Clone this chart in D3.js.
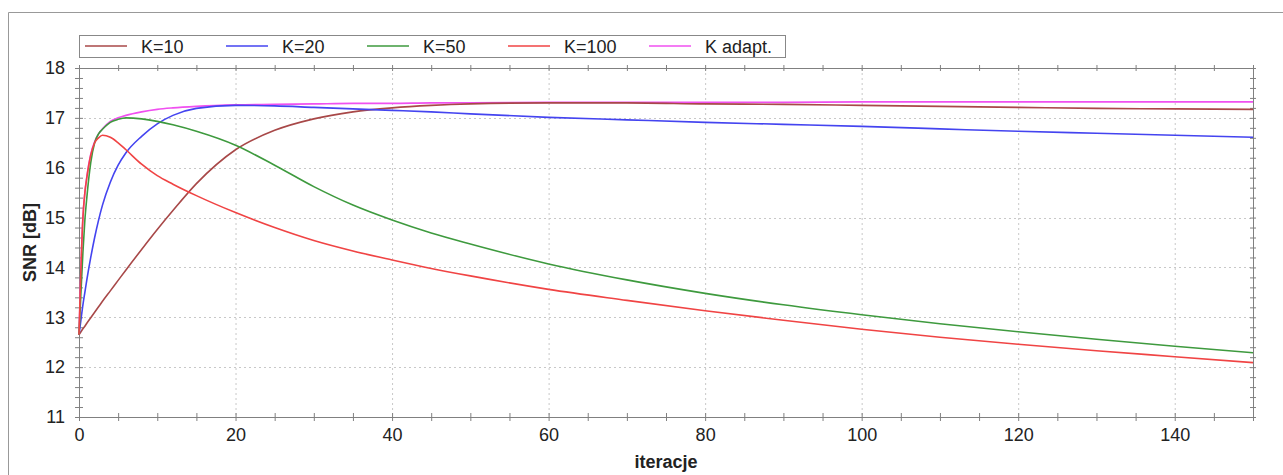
<!DOCTYPE html>
<html>
<head>
<meta charset="utf-8">
<script src="https://cdn.jsdelivr.net/npm/d3@7"></script>
<style>
  body { margin: 0; background: #fff; }
  svg text { font-family: "Liberation Sans", Arial, sans-serif; fill: #222; }
</style>
</head>
<body>
<div id="chart"></div>
<script>
// iteration numbers (denser at the start where curves are steep)
const iterations = [0, 0.25, 0.5, 0.75, 1, 1.5, 2, 2.5, 3, 4, 5, 6, 8, 10, 12, 15, 20, 25, 30, 35, 40, 45, 50, 60, 70, 80, 90, 100, 110, 120, 130, 140, 150];

const snrK10 = [12.65, 12.71, 12.77, 12.82, 12.88, 12.99, 13.1, 13.21, 13.32, 13.53, 13.74, 13.95, 14.36, 14.76, 15.14, 15.68, 16.36, 16.75, 16.98, 17.12, 17.2, 17.25, 17.28, 17.3, 17.3, 17.28, 17.27, 17.25, 17.23, 17.21, 17.19, 17.18, 17.17];
const snrK20 = [12.65, 12.95, 13.25, 13.5, 13.75, 14.2, 14.6, 14.95, 15.25, 15.71, 16.05, 16.3, 16.63, 16.88, 17.05, 17.19, 17.25, 17.24, 17.21, 17.18, 17.15, 17.12, 17.08, 17.01, 16.96, 16.91, 16.87, 16.83, 16.78, 16.73, 16.69, 16.65, 16.61];
const snrK50 = [12.65, 13.5, 14.3, 14.95, 15.4, 16.1, 16.5, 16.68, 16.77, 16.91, 16.97, 17.0, 16.98, 16.93, 16.86, 16.73, 16.45, 16.05, 15.62, 15.25, 14.95, 14.69, 14.47, 14.07, 13.75, 13.48, 13.25, 13.05, 12.87, 12.71, 12.56, 12.42, 12.29];
const snrK100 = [12.65, 14.0, 15.0, 15.5, 15.8, 16.25, 16.5, 16.6, 16.65, 16.61, 16.5, 16.36, 16.07, 15.84, 15.67, 15.44, 15.1, 14.8, 14.54, 14.33, 14.15, 13.98, 13.83, 13.56, 13.34, 13.13, 12.94, 12.76, 12.6, 12.46, 12.33, 12.21, 12.09];
const snrAdapt = [12.65, 14.0, 15.0, 15.5, 15.82, 16.27, 16.52, 16.68, 16.78, 16.93, 17.0, 17.05, 17.12, 17.17, 17.2, 17.23, 17.26, 17.27, 17.28, 17.29, 17.29, 17.3, 17.3, 17.31, 17.31, 17.31, 17.31, 17.32, 17.32, 17.32, 17.32, 17.32, 17.32];

const seriesNames = ['K=10', 'K=20', 'K=50', 'K=100', 'K adapt.'];
const seriesValues = [snrK10, snrK20, snrK50, snrK100, snrAdapt];
const xTicks = [0, 20, 40, 60, 80, 100, 120, 140];
const yTicks = [11, 12, 13, 14, 15, 16, 17, 18];

const palette = {
  brown: '#a84848',
  blue: '#4444f0',
  green: '#3e9a3e',
  red: '#f04444',
  magenta: '#f050f0'
};
const colors = Object.values(palette);

const width = 1283, height = 475;
const plotL = 79, plotR = 1253, plotT = 68, plotB = 417;
const fontSize = 18;

const svg = d3.select('#chart').append('svg')
  .attr('width', width)
  .attr('height', height);

// outer frame (top and left edge only visible)
svg.append('path')
  .attr('d', `M8.5,${height} L8.5,12.5 L${width},12.5`)
  .attr('fill', 'none')
  .attr('stroke', '#999')
  .attr('stroke-width', 1);

const x = d3.scaleLinear().domain([0, 150]).range([plotL, plotR]);
const y = d3.scaleLinear().domain([11, 18]).range([plotB, plotT]);

// dotted grid
const grid = svg.append('g').attr('stroke', '#c8c8c8').attr('stroke-dasharray', '2,3');
grid.selectAll('.gx').data(xTicks.filter(d => d > 0))
  .enter().append('line')
  .attr('x1', d => x(d) + 0.5).attr('x2', d => x(d) + 0.5)
  .attr('y1', plotT).attr('y2', plotB);
grid.selectAll('.gy').data(yTicks.filter(d => d > 11 && d < 18))
  .enter().append('line')
  .attr('y1', d => Math.round(y(d)) + 0.5).attr('y2', d => Math.round(y(d)) + 0.5)
  .attr('x1', plotL).attr('x2', plotR);

const minorX = d3.range(0, 151, 5);
const minorY = d3.range(11, 18.01, 0.2);

function crossAxis(g, axisFn, scale, vals, size) {
  g.append('g').call(axisFn(scale).tickValues(vals).tickSize(size).tickFormat(''));
  g.append('g').call(axisFn(scale).tickValues(vals).tickSize(-size).tickFormat(''));
  g.selectAll('path').attr('stroke', '#808080');
  g.selectAll('line').attr('stroke', '#808080');
}

// bottom axis
const gxb = svg.append('g').attr('transform', `translate(0,${plotB})`);
crossAxis(gxb, d3.axisBottom, x, minorX, 4);
gxb.append('g').call(d3.axisBottom(x).tickValues(xTicks).tickSize(0).tickPadding(11).tickFormat(d3.format('d')))
  .call(g => g.select('.domain').remove())
  .selectAll('text').attr('font-size', fontSize).attr('fill', '#222');

// top axis
const gxt = svg.append('g').attr('transform', `translate(0,${plotT})`);
crossAxis(gxt, d3.axisTop, x, minorX, 3);

// left axis
const gyl = svg.append('g').attr('transform', `translate(${plotL},0)`);
crossAxis(gyl, d3.axisLeft, y, minorY, 4);
gyl.append('g').call(d3.axisLeft(y).tickValues(yTicks).tickSize(0).tickPadding(14).tickFormat(d3.format('d')))
  .call(g => g.select('.domain').remove())
  .selectAll('text').attr('font-size', fontSize).attr('fill', '#222');

// right axis
const gyr = svg.append('g').attr('transform', `translate(${plotR},0)`);
crossAxis(gyr, d3.axisRight, y, minorY, 3);

// lines
const line = d3.line()
  .x(d => x(d[0]))
  .y(d => y(d[1]))
  .curve(d3.curveMonotoneX);

const drawOrder = [4, 0, 1, 2, 3];
svg.append('g').selectAll('path')
  .data(drawOrder)
  .enter().append('path')
  .attr('fill', 'none')
  .attr('stroke', i => colors[i])
  .attr('stroke-width', 1.6)
  .attr('d', i => line(iterations.map((it, j) => [it, seriesValues[i][j]])));

// axis titles
svg.append('text')
  .attr('x', 666).attr('y', 468)
  .attr('text-anchor', 'middle')
  .attr('font-size', fontSize).attr('font-weight', 'bold')
  .text('iteracje');
svg.append('text')
  .attr('transform', `translate(36,${(plotT + plotB) / 2}) rotate(-90)`)
  .attr('text-anchor', 'middle')
  .attr('font-size', fontSize).attr('font-weight', 'bold')
  .text('SNR [dB]');

// legend
const legend = svg.append('g');
legend.append('rect')
  .attr('x', 79.5).attr('y', 35.5)
  .attr('width', 706).attr('height', 22)
  .attr('fill', '#fff').attr('stroke', '#888');
const item = legend.selectAll('.item').data(seriesNames)
  .enter().append('g')
  .attr('transform', (d, i) => `translate(${85 + i * 141},46)`);
item.append('line')
  .attr('x1', 0).attr('x2', 42)
  .attr('stroke', (d, i) => colors[i])
  .attr('stroke-width', 1.6);
item.append('text')
  .attr('x', 56).attr('y', 6.5)
  .attr('font-size', fontSize)
  .text(d => d);
</script>
</body>
</html>
